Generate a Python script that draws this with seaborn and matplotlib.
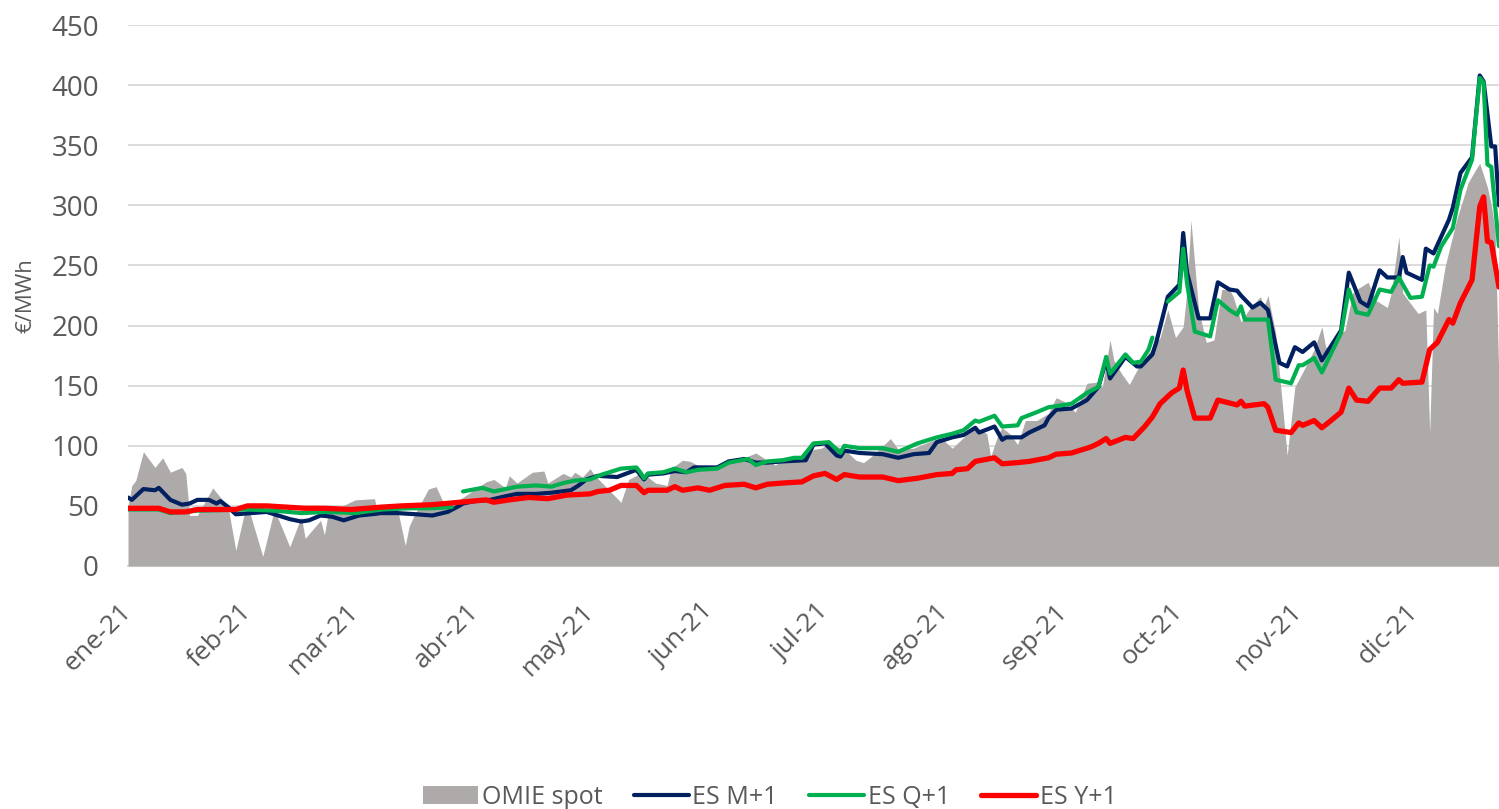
import numpy as np
import pandas as pd
import matplotlib
matplotlib.use("Agg")
import matplotlib.pyplot as plt
from matplotlib.patches import Patch
from matplotlib.lines import Line2D
import seaborn as sns

# ---------------- data ----------------
omie_dates = ["01-01", "01-02", "01-03", "01-05", "01-08", "01-10", "01-12", "01-15", "01-16", "01-17",
              "01-19", "01-23", "01-25", "01-27", "01-29", "01-31", "02-01", "02-05", "02-08", "02-12",
              "02-15", "02-16", "02-20", "02-21", "02-22", "02-27", "03-01", "03-06", "03-07", "03-12",
              "03-14", "03-15", "03-16", "03-20", "03-22", "03-24", "03-28", "04-04", "04-06", "04-09",
              "04-10", "04-12", "04-16", "04-19", "04-20", "04-24", "04-26", "04-27", "04-29", "05-01",
              "05-02", "05-09", "05-11", "05-14", "05-16", "05-18", "05-21", "05-22", "05-25", "05-27",
              "05-30", "06-01", "06-06", "06-10", "06-13", "06-15", "06-18", "06-22", "06-25", "06-28",
              "06-30", "07-02", "07-06", "07-09", "07-11", "07-13", "07-18", "07-20", "07-24", "07-27",
              "07-31", "08-03", "08-07", "08-09", "08-12", "08-13", "08-15", "08-16", "08-18", "08-20",
              "08-22", "08-25", "08-28", "08-30", "09-01", "09-04", "09-07", "09-10", "09-11", "09-13",
              "09-14", "09-16", "09-18", "09-21", "09-24", "09-26", "09-28", "09-30", "10-02", "10-03",
              "10-04", "10-06", "10-08", "10-10", "10-12", "10-14", "10-15", "10-17", "10-19", "10-22",
              "10-23", "10-24", "10-26", "10-27", "10-29", "10-31", "11-02", "11-05", "11-07", "11-08",
              "11-10", "11-12", "11-13", "11-15", "11-16", "11-19", "11-21", "11-24", "11-25", "11-27",
              "11-28", "12-02", "12-04", "12-05", "12-06", "12-07", "12-09", "12-12", "12-15", "12-17",
              "12-18", "12-20", "12-21", "12-22", "12-23"]
omie_values = [50, 67, 71, 95, 82, 90, 78, 82, 77, 42,
               42, 65, 57, 49, 13, 41, 51, 8, 47, 16,
               41, 23, 38, 26, 44, 52, 55, 56, 42, 47,
               17, 33, 40, 64, 66, 52, 55, 70, 72, 65,
               75, 69, 78, 79, 69, 77, 74, 78, 74, 81,
               76, 53, 72, 77, 74, 69, 67, 81, 88, 87,
               82, 81, 87, 90, 94, 90, 84, 91, 90, 97,
               98, 102, 97, 88, 86, 91, 106, 97, 98, 102,
               107, 98, 110, 116, 110, 91, 110, 115, 110, 101,
               121, 121, 127, 140, 137, 128, 152, 153, 149, 188,
               171, 160, 151, 169, 181, 190, 213, 190, 199, 230,
               288, 213, 186, 188, 230, 230, 224, 203, 213, 224,
               216, 225, 194, 160, 92, 149, 161, 180, 199, 182,
               182, 194, 196, 227, 230, 236, 221, 215, 227, 274,
               227, 210, 213, 111, 215, 210, 249, 288, 319, 330,
               335, 315, 300, 280, 150]

m1_dates = ["01-01", "01-02", "01-05", "01-08", "01-09", "01-12", "01-15", "01-17", "01-19", "01-22",
            "01-24", "01-25", "01-27", "01-29", "02-02", "02-06", "02-09", "02-12", "02-15", "02-17",
            "02-20", "02-23", "02-26", "03-02", "03-08", "03-12", "03-17", "03-21", "03-25", "03-28",
            "03-29", "04-01", "04-05", "04-09", "04-12", "04-17", "04-21", "04-26", "04-28", "04-30",
            "05-03", "05-08", "05-13", "05-15", "05-16", "05-20", "05-23", "05-26", "05-28", "06-03",
            "06-06", "06-10", "06-13", "06-16", "06-20", "06-26", "06-28", "07-01", "07-04", "07-05",
            "07-06", "07-10", "07-16", "07-20", "07-24", "07-28", "07-30", "08-03", "08-06", "08-09",
            "08-10", "08-14", "08-16", "08-17", "08-21", "08-23", "08-27", "08-28", "08-30", "09-03",
            "09-07", "09-10", "09-12", "09-13", "09-17", "09-20", "09-21", "09-24", "09-25", "09-28",
            "10-01", "10-02", "10-03", "10-06", "10-09", "10-11", "10-14", "10-16", "10-17", "10-20",
            "10-22", "10-24", "10-27", "10-29", "10-31", "11-02", "11-05", "11-07", "11-12", "11-14",
            "11-17", "11-19", "11-22", "11-24", "11-27", "11-28", "11-29", "12-03", "12-04", "12-06",
            "12-10", "12-11", "12-13", "12-16", "12-18", "12-19", "12-21", "12-22", "12-23"]
m1_values = [57, 55, 64, 63, 65, 55, 51, 52, 55, 55,
             52, 54, 49, 43, 44, 45, 42, 39, 37, 38,
             42, 41, 38, 42, 44, 44, 43, 42, 45, 50,
             52, 54, 55, 58, 60, 60, 61, 63, 67, 72,
             75, 74, 80, 72, 76, 77, 79, 78, 82, 82,
             87, 89, 86, 86, 87, 88, 101, 102, 92, 91,
             96, 94, 93, 90, 93, 94, 103, 107, 109, 115,
             111, 116, 105, 107, 107, 111, 117, 123, 130, 131,
             138, 149, 171, 156, 174, 166, 166, 176, 186, 224,
             234, 277, 244, 206, 206, 236, 230, 229, 225, 215,
             219, 213, 169, 166, 182, 178, 186, 171, 196, 244,
             220, 216, 246, 240, 240, 257, 244, 238, 264, 260,
             288, 298, 327, 340, 408, 403, 349, 349, 300]

# NaN marks the breaks in the ES Q+1 series
q1_dates = ["01-01", "01-09", "01-12", "01-19", "02-01", "02-08", "02-15", "02-22", "03-01", "03-08",
            "03-15", "03-21", "03-26", "03-27", "03-29", "04-03", "04-06", "04-12", "04-17", "04-21",
            "04-24", "04-27", "05-01", "05-04", "05-09", "05-13", "05-14", "05-15", "05-16", "05-20",
            "05-23", "05-26", "05-29", "06-03", "06-06", "06-11", "06-13", "06-16", "06-20", "06-23",
            "06-25", "06-28", "07-02", "07-04", "07-05", "07-06", "07-10", "07-16", "07-20", "07-25",
            "07-30", "08-03", "08-06", "08-09", "08-10", "08-14", "08-16", "08-20", "08-21", "08-25",
            "08-28", "08-30", "09-03", "09-07", "09-10", "09-12", "09-13", "09-17", "09-19", "09-21",
            "09-23", "09-24", "09-26", "09-28", "10-01", "10-02", "10-03", "10-05", "10-09", "10-11",
            "10-14", "10-16", "10-17", "10-18", "10-24", "10-26", "10-30", "11-01", "11-02", "11-05",
            "11-07", "11-12", "11-14", "11-16", "11-19", "11-22", "11-25", "11-27", "11-30", "12-03",
            "12-05", "12-06", "12-08", "12-11", "12-13", "12-16", "12-18", "12-19", "12-20", "12-21",
            "12-23"]
q1_values = [47, 47, 44, 46, 47, 46, 44, 45, 44, 47,
             48, 48, 49, np.nan, 62, 65, 62, 66, 67, 66,
             69, 71, 72, 76, 81, 82, 78, 73, 77, 78,
             81, 78, 80, 81, 86, 89, 84, 87, 88, 90,
             90, 102, 103, 97, 94, 100, 98, 98, 95, 102,
             107, 110, 113, 121, 120, 125, 116, 117, 123, 128,
             132, 133, 135, 144, 149, 174, 160, 176, 169, 170,
             180, 190, np.nan, 220, 228, 264, 235, 195, 191, 221,
             213, 209, 216, 205, 205, 155, 152, 167, 167, 173,
             161, 194, 230, 211, 209, 230, 228, 240, 223, 224,
             250, 249, 266, 281, 313, 338, 406, 402, 334, 332,
             266]

y1_dates = ["01-01", "01-09", "01-12", "01-16", "01-19", "01-29", "02-01", "02-06", "02-11", "02-16",
            "02-21", "02-28", "03-08", "03-13", "03-21", "03-28", "04-04", "04-06", "04-10", "04-15",
            "04-20", "04-25", "05-01", "05-03", "05-06", "05-09", "05-13", "05-15", "05-16", "05-21",
            "05-23", "05-25", "05-29", "06-01", "06-05", "06-10", "06-13", "06-16", "06-20", "06-25",
            "06-28", "07-01", "07-04", "07-06", "07-10", "07-16", "07-20", "07-25", "07-30", "08-03",
            "08-04", "08-07", "08-09", "08-14", "08-16", "08-20", "08-23", "08-28", "08-30", "09-03",
            "09-08", "09-10", "09-12", "09-13", "09-17", "09-19", "09-22", "09-24", "09-26", "09-29",
            "10-01", "10-02", "10-03", "10-05", "10-09", "10-11", "10-16", "10-17", "10-18", "10-23",
            "10-24", "10-26", "10-30", "11-01", "11-02", "11-05", "11-07", "11-09", "11-12", "11-14",
            "11-16", "11-19", "11-22", "11-25", "11-27", "11-28", "12-03", "12-05", "12-07", "12-10",
            "12-11", "12-13", "12-16", "12-18", "12-19", "12-20", "12-21", "12-23"]
y1_values = [48, 48, 45, 45, 47, 47, 50, 50, 49, 48,
             48, 47, 49, 50, 51, 53, 55, 53, 55, 57,
             56, 59, 60, 62, 63, 67, 67, 61, 63, 63,
             66, 63, 65, 63, 67, 68, 65, 68, 69, 70,
             75, 77, 72, 76, 74, 74, 71, 73, 76, 77,
             80, 81, 87, 90, 85, 86, 87, 90, 93, 94,
             99, 102, 106, 102, 107, 106, 116, 124, 135, 144,
             148, 163, 146, 123, 123, 138, 134, 137, 133, 135,
             132, 113, 111, 119, 117, 121, 115, 120, 128, 148,
             138, 137, 148, 148, 155, 152, 153, 180, 186, 205,
             202, 219, 238, 299, 307, 270, 269, 232]

month_labels = ["ene-21", "feb-21", "mar-21", "abr-21", "may-21", "jun-21",
                "jul-21", "ago-21", "sep-21", "oct-21", "nov-21", "dic-21"]
y_ticks = [0, 50, 100, 150, 200, 250, 300, 350, 400, 450]
series_names = ["OMIE spot", "ES M+1", "ES Q+1", "ES Y+1"]
y_label = "€/MWh"

# ---------------- styling ----------------
C_AREA = "#AEAAAA"
C_M1 = "#002060"
C_Q1 = "#00B050"
C_Y1 = "#FF0000"
C_TEXT = "#595959"
C_GRID = "#D9D9D9"

sns.set_theme(style="white")
plt.rcParams["font.family"] = ["Open Sans", "DejaVu Sans"]


def to_dt(ds):
    return pd.to_datetime(["2021-" + d for d in ds])


omie = pd.DataFrame({"date": to_dt(omie_dates), "value": omie_values})
m1 = pd.DataFrame({"date": to_dt(m1_dates), "value": m1_values})
q1 = pd.DataFrame({"date": to_dt(q1_dates), "value": q1_values})
q1["seg"] = q1["value"].isna().cumsum()
q1 = q1.dropna()
y1 = pd.DataFrame({"date": to_dt(y1_dates), "value": y1_values})

W, H = 1499, 809
fig = plt.figure(figsize=(W / 100, H / 100), dpi=100)
left, right, top, bottom = 128, 1499, 25, 566
ax = fig.add_axes([left / W, (H - bottom) / H, (right - left) / W, (bottom - top) / H])

LW_M, LW_Q, LW_Y = 3.0, 3.0, 3.8
ax.fill_between(omie["date"], 0, omie["value"], color=C_AREA, lw=0, zorder=2)
sns.lineplot(data=m1, x="date", y="value", color=C_M1, lw=LW_M, ax=ax, zorder=3)
sns.lineplot(data=q1, x="date", y="value", units="seg", estimator=None,
             color=C_Q1, lw=LW_Q, ax=ax, zorder=4)
sns.lineplot(data=y1, x="date", y="value", color=C_Y1, lw=LW_Y, ax=ax, zorder=5)

ax.set_xlim(pd.Timestamp("2021-01-01"), pd.Timestamp("2021-12-23"))
ax.set_ylim(0, 450)
ax.set_yticks(y_ticks)
ax.set_yticklabels([str(v) for v in y_ticks], fontsize=20, color=C_TEXT)
month_starts = pd.date_range("2021-01-01", periods=12, freq="MS")
ax.set_xticks(month_starts)
ax.set_xticklabels(month_labels, fontsize=19, color=C_TEXT, rotation=45,
                   ha="right", va="center", rotation_mode="anchor")
ax.tick_params(axis="x", length=9, width=1.3, color=C_GRID, pad=21, direction="out")
ax.tick_params(axis="y", length=0, pad=21)
ax.grid(axis="y", color=C_GRID, lw=1.3)
ax.grid(axis="x", visible=False)
ax.set_axisbelow(True)
for s in ["top", "right", "left"]:
    ax.spines[s].set_visible(False)
ax.spines["bottom"].set_color(C_GRID)
ax.spines["bottom"].set_linewidth(1.5)
ax.spines["bottom"].set_zorder(1)
ax.set_xlabel("")
ax.set_ylabel(y_label, fontsize=16, color=C_TEXT)
ax.yaxis.set_label_coords((36 - left) / (right - left), 0.5)
if ax.get_legend():
    ax.get_legend().remove()

handles = [Patch(facecolor=C_AREA, edgecolor="none"),
           Line2D([0], [0], color=C_M1, lw=LW_M),
           Line2D([0], [0], color=C_Q1, lw=LW_Q),
           Line2D([0], [0], color=C_Y1, lw=LW_Y)]
fig.legend(handles, series_names, loc="center", bbox_to_anchor=(770 / W, 1 - 797 / H),
           ncol=4, frameon=False, fontsize=18, labelcolor=C_TEXT,
           handlelength=2.2, handleheight=0.7, handletextpad=0.15, columnspacing=1.25,
           borderpad=0, borderaxespad=0)

fig.savefig("out.png", dpi=100)
